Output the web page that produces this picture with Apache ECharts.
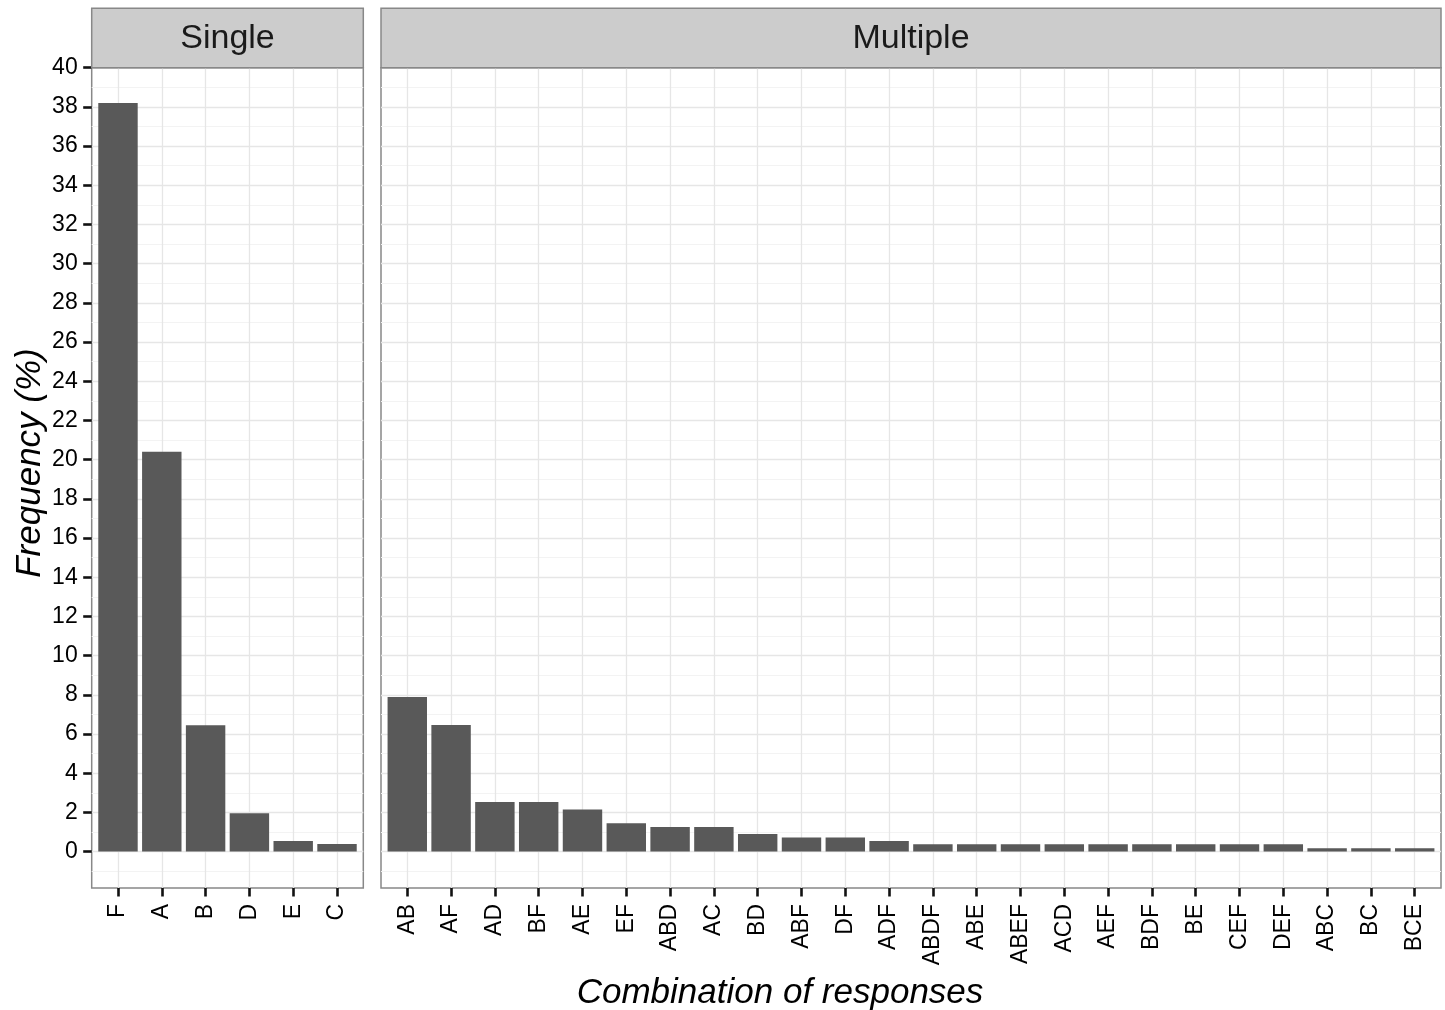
<!DOCTYPE html>
<html>
<head>
<meta charset="utf-8">
<script src="https://cdn.jsdelivr.net/npm/echarts@6/dist/echarts.min.js"></script>
<style>
html,body{margin:0;padding:0;background:#fff;}
#chart{width:1445px;height:1010px;}
</style>
</head>
<body>
<div id="chart"></div>
<script>
// ---- data ----
const singleCats = ['F', 'A', 'B', 'D', 'E', 'C'];
const singleVals = [38.2, 20.4, 6.45, 1.96, 0.54, 0.38];
const multiCats = ['AB', 'AF', 'AD', 'BF', 'AE', 'EF', 'ABD', 'AC', 'BD', 'ABF', 'DF', 'ADF',
  'ABDF', 'ABE', 'ABEF', 'ACD', 'AEF', 'BDF', 'BE', 'CEF', 'DEF', 'ABC', 'BC', 'BCE'];
const multiVals = [7.89, 6.46, 2.53, 2.53, 2.15, 1.45, 1.25, 1.25, 0.89, 0.72, 0.72, 0.54,
  0.37, 0.37, 0.37, 0.37, 0.37, 0.37, 0.37, 0.37, 0.37, 0.17, 0.17, 0.17];
const yMajorTicks = [0, 2, 4, 6, 8, 10, 12, 14, 16, 18, 20, 22, 24, 26, 28, 30, 32, 34, 36, 38, 40];
const yMinorTicks = [-1, 1, 3, 5, 7, 9, 11, 13, 15, 17, 19, 21, 23, 25, 27, 29, 31, 33, 35, 37, 39];
const yMin = -1.86, yMax = 40;
const stripLabels = ['Single', 'Multiple'];
const xTitle = 'Combination of responses';
const yTitle = 'Frequency (%)';

// ---- layout ----
const FONT = '"Liberation Sans", Arial, Helvetica, sans-serif';
const panelTop = 67.7, panelBottom = 888;
const panelH = panelBottom - panelTop;
const L = {x0: 91.7, x1: 363.3};
const R = {x0: 381, x1: 1441};
const unit = (L.x1 - L.x0) / (singleCats.length + 0.2);
const pad = 0.1 * unit;
const borderColor = '#888888';
const majorColor = '#e6e6e6';
const minorColor = '#f3f3f3';
const tickStyle = {color: '#111', width: 2.6};

const chart = echarts.init(document.getElementById('chart'), null, {renderer: 'canvas'});

function bgGrid(p) {
  return {left: p.x0, top: panelTop, width: p.x1 - p.x0, height: panelH,
    show: true, borderColor: borderColor, borderWidth: 1.5, backgroundColor: '#fff',
    containLabel: false, outerBoundsMode: 'none'};
}
function innerGrid(p) {
  return {left: p.x0 + pad, top: panelTop, width: p.x1 - p.x0 - 2 * pad, height: panelH,
    show: false, containLabel: false, outerBoundsMode: 'none'};
}

function minorY(gridIndex) {
  return {type: 'value', gridIndex, position: 'left', min: yMin, max: yMax, z: 0,
    axisLine: {show: false, onZero: false}, axisLabel: {show: false},
    axisTick: {show: false, customValues: yMinorTicks},
    splitLine: {show: true, lineStyle: {color: minorColor, width: 1}}};
}
function majorY(gridIndex, withLabels) {
  return {type: 'value', gridIndex, position: 'left', min: yMin, max: yMax, z: 1,
    axisLine: {show: false, onZero: false},
    axisTick: {show: withLabels, customValues: yMajorTicks, length: 8.5, inside: false,
      lineStyle: tickStyle},
    axisLabel: {show: withLabels, customValues: yMajorTicks, fontSize: 23, color: '#000',
      fontFamily: FONT, margin: 14},
    splitLine: {show: true, lineStyle: {color: majorColor, width: 1.3}}};
}
function hiddenY(gridIndex) {
  return {type: 'value', gridIndex, position: 'left', min: yMin, max: yMax, show: false,
    axisLine: {onZero: false}};
}
function catX(gridIndex, cats) {
  return {type: 'category', gridIndex, data: cats, boundaryGap: true, z: 1, position: 'bottom',
    axisLine: {show: false, onZero: false},
    axisTick: {show: true, alignWithLabel: true, length: 8.5, inside: false,
      lineStyle: tickStyle},
    axisLabel: {rotate: 90, fontSize: 23, color: '#000', fontFamily: FONT, margin: 16, interval: 0},
    splitLine: {show: true, alignWithLabel: true, lineStyle: {color: majorColor, width: 1.3}}};
}

const barStyle = {color: '#595959'};

const option = {
  animation: false,
  backgroundColor: '#fff',
  grid: [bgGrid(L), innerGrid(L), bgGrid(R), innerGrid(R)],
  xAxis: [
    {type: 'value', gridIndex: 0, show: false, axisLine: {onZero: false}},
    catX(1, singleCats),
    {type: 'value', gridIndex: 2, show: false, axisLine: {onZero: false}},
    catX(3, multiCats)
  ],
  yAxis: [
    minorY(0), majorY(0, true),
    hiddenY(1),
    minorY(2), majorY(2, false),
    hiddenY(3)
  ],
  series: [
    {type: 'bar', xAxisIndex: 1, yAxisIndex: 2, data: singleVals, barCategoryGap: '10%',
      itemStyle: barStyle, z: 2},
    {type: 'bar', xAxisIndex: 3, yAxisIndex: 5, data: multiVals, barCategoryGap: '10%',
      itemStyle: barStyle, z: 2}
  ],
  graphic: [
    {type: 'rect', shape: {x: L.x0, y: 8.3, width: L.x1 - L.x0, height: panelTop - 8.3},
      style: {fill: '#cccccc', stroke: borderColor, lineWidth: 1.5}, z: 10},
    {type: 'rect', shape: {x: R.x0, y: 8.3, width: R.x1 - R.x0, height: panelTop - 8.3},
      style: {fill: '#cccccc', stroke: borderColor, lineWidth: 1.5}, z: 10},
    {type: 'text', x: (L.x0 + L.x1) / 2, y: 38.5, z: 11,
      style: {text: stripLabels[0], font: '34px ' + FONT, fill: '#1a1a1a', align: 'center', verticalAlign: 'middle'}},
    {type: 'text', x: (R.x0 + R.x1) / 2, y: 38.5, z: 11,
      style: {text: stripLabels[1], font: '34px ' + FONT, fill: '#1a1a1a', align: 'center', verticalAlign: 'middle'}},
    {type: 'text', x: 780, y: 993, z: 11,
      style: {text: xTitle, font: 'italic 35px ' + FONT, fill: '#000', align: 'center', verticalAlign: 'middle'}},
    {type: 'text', x: 30, y: 463, rotation: Math.PI / 2, z: 11,
      style: {text: yTitle, font: 'italic 35px ' + FONT, fill: '#000', align: 'center', verticalAlign: 'middle'}}
  ]
};
chart.setOption(option);
</script>
</body>
</html>
